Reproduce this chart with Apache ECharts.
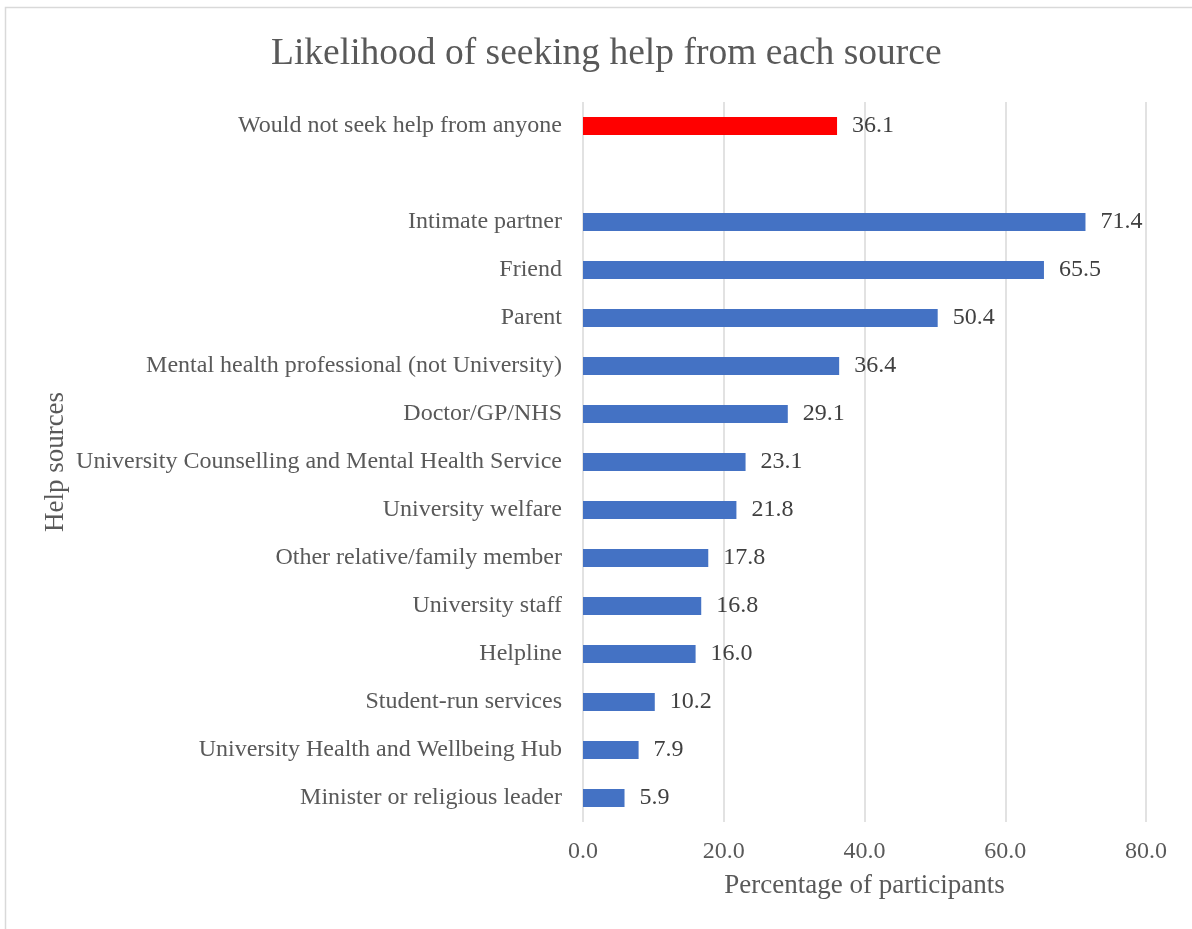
<!DOCTYPE html>
<html>
<head>
<meta charset="utf-8">
<title>Likelihood of seeking help from each source</title>
<script src="https://cdn.jsdelivr.net/npm/echarts@6/dist/echarts.min.js"></script>
<style>
  html, body { margin: 0; padding: 0; background: #ffffff; }
  #chart { width: 1192px; height: 929px; }
</style>
</head>
<body>
<div id="chart"></div>
<script>
// Help sources, top to bottom; the blank entry leaves a gap under the first bar
const sources = [
  'Would not seek help from anyone',
  '',
  'Intimate partner',
  'Friend',
  'Parent',
  'Mental health professional (not University)',
  'Doctor/GP/NHS',
  'University Counselling and Mental Health Service',
  'University welfare',
  'Other relative/family member',
  'University staff',
  'Helpline',
  'Student-run services',
  'University Health and Wellbeing Hub',
  'Minister or religious leader'
];

// Percentage of participants for each source ('-' = empty slot)
const percentages = [36.1, '-', 71.4, 65.5, 50.4, 36.4, 29.1, 23.1, 21.8, 17.8, 16.8, 16.0, 10.2, 7.9, 5.9];

// Bars highlighted in red
const highlighted = ['Would not seek help from anyone'];

const xTicks = { min: 0, max: 80, interval: 20 };

const FONT = "'Liberation Serif', 'Times New Roman', serif";
const BLUE = '#4472C4';
const RED = '#FF0000';

const chart = echarts.init(document.getElementById('chart'), null, { renderer: 'canvas' });

chart.setOption({
  backgroundColor: '#ffffff',
  animation: false,
  textStyle: { fontFamily: FONT },
  title: {
    text: 'Likelihood of seeking help from each source',
    left: 266,
    top: 30,
    textStyle: { fontFamily: FONT, fontSize: 37.5, fontWeight: 'normal', color: '#595959' }
  },
  graphic: [{
    type: 'rect',
    silent: true,
    shape: { x: 5.5, y: 7.5, width: 1210, height: 940 },
    style: { fill: 'none', stroke: '#d9d9d9', lineWidth: 1.5 }
  }],
  grid: { left: 583, right: 46, top: 102, bottom: 107, containLabel: false },
  xAxis: {
    type: 'value',
    min: xTicks.min,
    max: xTicks.max,
    interval: xTicks.interval,
    name: 'Percentage of participants',
    nameLocation: 'middle',
    nameGap: 50,
    nameTextStyle: { fontFamily: FONT, fontSize: 27, color: '#595959' },
    axisLine: { show: false },
    axisTick: { show: false },
    axisLabel: {
      margin: 18,
      fontFamily: FONT, fontSize: 24, color: '#595959',
      formatter: v => v.toFixed(1)
    },
    splitLine: { show: true, lineStyle: { color: '#d9d9d9', width: 1.5 } }
  },
  yAxis: {
    type: 'category',
    data: sources,
    inverse: true,
    name: 'Help sources',
    nameLocation: 'middle',
    nameGap: 514,
    nameRotate: 90,
    nameTextStyle: { fontFamily: FONT, fontSize: 27, color: '#595959' },
    axisLine: { show: false },
    axisTick: { show: false },
    axisLabel: { margin: 21, fontFamily: FONT, fontSize: 24, color: '#595959' },
    splitLine: { show: false }
  },
  series: [{
    type: 'bar',
    barWidth: '37.5%',
    data: percentages.map((v, i) => ({
      value: v,
      itemStyle: { color: highlighted.includes(sources[i]) ? RED : BLUE }
    })),
    label: {
      show: true,
      position: 'right',
      distance: 15,
      fontFamily: FONT,
      fontSize: 24,
      color: '#404040',
      formatter: p => (typeof p.value === 'number' ? p.value.toFixed(1) : '')
    }
  }]
});
</script>
</body>
</html>
